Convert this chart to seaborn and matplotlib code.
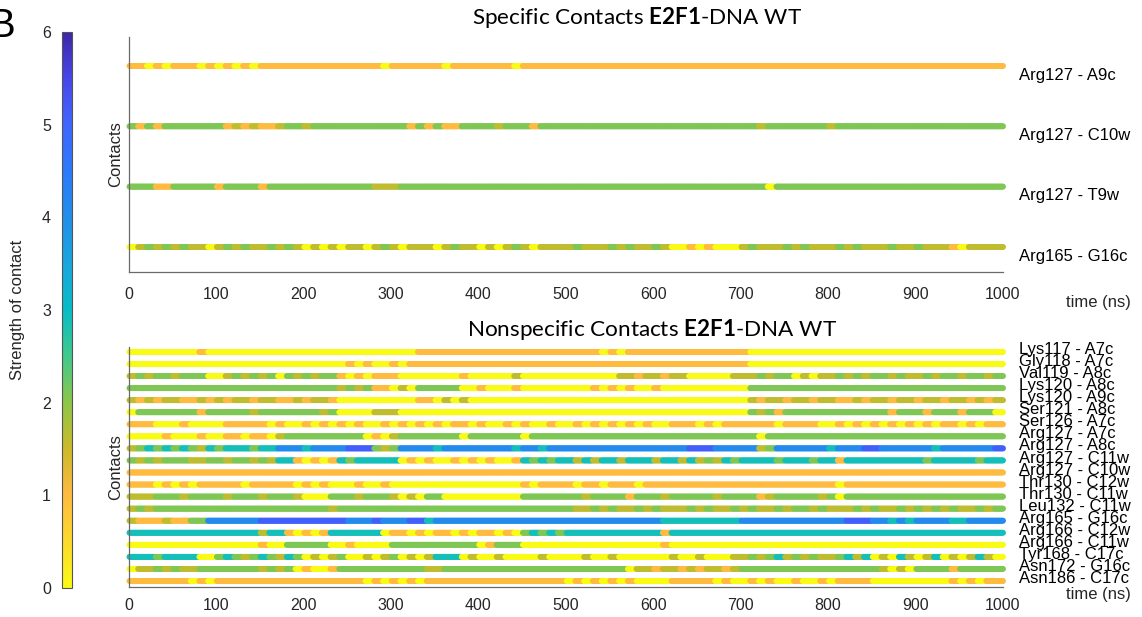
import numpy as np
import pandas as pd
import matplotlib
matplotlib.use("Agg")
import matplotlib.pyplot as plt
import seaborn as sns
from matplotlib.colors import LinearSegmentedColormap, Normalize
import matplotlib.cm as cm

# ---------------- data ----------------
# Contact state per 10 ns window (100 windows over 0-1000 ns).
# Codes map to a contact strength.
STRENGTH = {'y': 0.0, 'o': 1.0, 'l': 1.6, 'g': 2.1, 't': 2.9, 'b': 4.1, 'B': 5.1}

top_labels = ["Arg127 - A9c", "Arg127 - C10w", "Arg127 - T9w", "Arg165 - G16c"]
top_states = [
    "ooyoyoooyoyoyoyoo" + "o"*12 + "y" + "o"*6 + "y" + "o"*7 + "y" + "o"*5 + "o"*50,
    "gogogg" + "ggggg" + "ololool" + "gglgg" + "g"*9 + "ogogoog" + "ggglgggoggg" + "g"*22 + "l" + "g"*7 + "l" + "g"*19,
    "gggoo" + "ggggg" + "o" + "gggg" + "o" + "g"*12 + "lll" + "g"*19 + "g"*23 + "y" + "g"*26,
    "y" + "lglglgll" + "y" + "lglgllglgl" + "ylylyl" + "lylglylllylgllylylglylll" + "lglllglgllgl" + "yyoyoyyy" + "lglllglglllglglllgllglll" + "oy" + "llll",
]

bottom_labels = ["Lys117 - A7c", "Gly118 - A7c", "Val119 - A8c", "Lys120 - A8c", "Lys120 - A9c",
                 "Ser121 - A8c", "Ser126 - A7c", "Arg127 - A7c", "Arg127 - A8c", "Arg127 - C11w",
                 "Arg127 - C10w", "Thr130 - C12w", "Thr130 - C11w", "Leu132 - C11w", "Arg165 - G16c",
                 "Arg166 - C12w", "Arg166 - C11w", "Tyr168 - C17c", "Asn172 - G16c", "Asn186 - C17c"]
bottom_states = [
    "y"*8 + "o" + "y"*24 + "o"*21 + "yoy" + "o"*14 + "y"*29,
    "y"*24 + "yoyoyyoyo" + "o"*38 + "y"*29,
    "l" + "glgglg" + "gg" + "yy" + "lglgl" + "gy" + "glglgg" + "oyoyo" + "oo" + "yyyyyyyoyyyyylyyyyy" + "yyyyyyl" + "lolloll" + "yyyyyl" + "ll" + "glgg" + "ylyl" + "lglglgglgllglgglgglg",
    "g"*23 + "glglg" + "oo" + "yly" + "ggggg" + "yyoyyyoyyyyy" + "yyyoyoyoyyoyyyyyyyyyy" + "g"*29,
    "lololloololollolloolollo" + "y"*9 + "ooy" + "lylyy" + "y"*9 + "y"*21 + "lollolloll" + "oolollollo" + "llollolol",
    "y" + "g"*7 + "o" + "g"*5 + "l" + "g"*7 + "lg" + "yyyy" + "lll" + "y"*19 + "y"*21 + "glgoggg" + "g"*9 + "o" + "g"*3 + "o" + "g"*3 + "o" + "g"*3 + "y",
    "oooy" + "yyoyyyyo" + "ooo" + "oyoyyoyoyo" + "yoyyoyoyoy" + "oyooyoyyoy" + "oyyoy" + "yoyoyoyoyo" + "yyoooyoyoo" + "ooooyooooy" + "yoyoyoyoyo" + "yoyooyoyoo",
    "yyyyoyyyoyyo" + "oyooy" + "lg" + "g"*8 + "yoyl" + "g"*7 + "y" + "g"*6 + "y" + "gggg" + "g"*22 + "y" + "g"*27,
    "lgtgtgtgltgt" + "ttgtt" + "bbbtbbbbBB" + "Bglg" + "bbbbtbbbbbbbbtbbtbb" + "bbbbbbbbbbbbbbBBBbbbbb" + "lg" + "bbbbbb" + "t" + "bbbBBbbbbbb" + "t" + "bbbbbbB",
    "glglgggllgglgglgl" + "tt" + "oyoyo" + "tgttttt" + "yoyoyyoyoyoyyo" + "tgtgt" + "tltlttltttlttlt" + "lgl" + "tgttttgtttgtt" + "o" + "tttttttttgtttttgtt",
    "o"*100,
    "ooo" + "yoyoyo" + "ooooyooooo" + "yoyo" + "yyyoyyoy" + "y"*14 + "oyooo" + "oyooyoooyooo" + "o"*19 + "y" + "o"*18,
    "lll" + "ggglgggglggglgggl" + "yyy" + "ggglgggl" + "yly" + "gg" + "y"*9 + "ggggg" + "gglggggoggglggggglggggolggggglg" + "y" + "g"*18,
    "lgl" + "g"*20 + "lg" + "g"*25 + "gllglgllgl" + "glllglgllg" + "lgllglgglg" + "lllglgllgl" + "glglgllglg",
    "lo" + "ooloo" + "gg" + "bbbbbb" + "BBBBBBBBBB" + "bbbBbbbBB" + "t" + "b"*15 + "b"*11 + "t"*9 + "b"*12 + "BBB" + "bb" + "tbt" + "bbbb" + "tt" + "bbbb",
    "t"*15 + "ltt" + "oyoyo" + "tttttt" + "yo" + "oyoyooyoyooyoy" + "gtgtg" + "t"*11 + "o" + "t"*38,
    "y"*15 + "oyy" + "ggggg" + "yyoyyyy" + "g"*10 + "yo" + "ggg" + "yyyyy" + "y"*11 + "o" + "y"*38,
    "tttgtttt" + "yy" + "gtglgtgltg" + "ylylgyylylgylyl" + "ttt" + "ylyylyyyylyy" + "yylyylyyyyyylyylyyyl" + "lglgtlglgllgtl" + "t" + "ylytlyltylyltly",
    "yl" + "lglgllg" + "gggggg" + "lglg" + "yoyyo" + "g"*10 + "ll" + "g"*14 + "g"*7 + "yl" + "lollolollol" + "g"*16 + "lyly" + "gggg" + "o" + "ggggg",
    "ooooooo" + "yoy" + "o"*17 + "yoyoyoy" + "o"*16 + "yoyoyoyoyyyy" + "ooooo" + "yoyyoyoyyoyyoy" + "oooo" + "y"*9 + "oyoyoo",
]

time_ns = np.arange(1, 1001)
x_ticks = list(range(0, 1001, 100))
cbar_ticks = [0, 1, 2, 3, 4, 5, 6]

# ---------------- style ----------------
sns.set_theme(style="white")
plt.rcParams['font.family'] = ['Liberation Sans', 'DejaVu Sans']
plt.rcParams['mathtext.fontset'] = 'custom'
plt.rcParams['mathtext.bf'] = 'Lato:bold'
plt.rcParams['mathtext.rm'] = 'Lato'

# reversed parula-like colormap: 0 = yellow, 6 = indigo
anchor_cols = [(0.976, 0.984, 0.080), (0.99, 0.85, 0.17), (0.997, 0.73, 0.25), (0.80, 0.73, 0.16),
               (0.55, 0.78, 0.28), (0.25, 0.79, 0.55), (0.03, 0.74, 0.78), (0.10, 0.65, 0.87),
               (0.13, 0.56, 0.92), (0.17, 0.48, 0.98), (0.25, 0.40, 1.00), (0.28, 0.28, 0.92),
               (0.24, 0.15, 0.66)]
cmap = LinearSegmentedColormap.from_list("parula_r", list(zip(np.linspace(0, 1, len(anchor_cols)), anchor_cols)))
norm = Normalize(0, 6)

W, H = 1142, 617
fig = plt.figure(figsize=(W / 100, H / 100), dpi=100)


def px_rect(l, t, r, b):
    return [l / W, 1 - b / H, (r - l) / W, (b - t) / H]


ax_top = fig.add_axes(px_rect(128.6, 37, 1003, 272))
ax_bot = fig.add_axes(px_rect(128.6, 347, 1003, 587))


def build(labels, states):
    n = len(labels)
    frames = []
    for k, (lab, st) in enumerate(zip(labels, states)):
        idx = ((time_ns - 1) * len(st)) // 1000
        vals = [STRENGTH[st[i]] for i in idx]
        frames.append(pd.DataFrame({"time": time_ns, "row": n - k, "strength": vals, "contact": lab}))
    return pd.concat(frames, ignore_index=True)


spine_col = "#6a6a6a"
text_col = "#262626"

for ax, labels, states, ylim, lab_off, pad in [
        (ax_top, top_labels, top_states, (0.585, 4.48), -0.15, 11),
        (ax_bot, bottom_labels, bottom_states, (0.5, 20.41), 0.2, 8)]:
    df = build(labels, states)
    sns.scatterplot(data=df, x="time", y="row", hue="strength", palette=cmap, hue_norm=norm,
                    s=18, linewidth=0, legend=False, ax=ax)
    for coll in ax.collections:
        coll.set_clip_on(False)
    ax.set_xlim(0, 1000)
    ax.set_ylim(*ylim)
    ax.set_xticks(x_ticks)
    ax.set_xticklabels([str(t) for t in x_ticks], fontsize=11.5, color=text_col)
    ax.set_yticks([])
    ax.tick_params(axis="x", direction="in", length=5, width=0.7, color=spine_col, pad=pad)
    sns.despine(ax=ax)
    for sp in ("left", "bottom"):
        ax.spines[sp].set_color(spine_col)
        ax.spines[sp].set_linewidth(0.9)
    ax.set_xlabel("")
    ax.set_ylabel("Contacts", fontsize=12, color=text_col, labelpad=4)
    n = len(labels)
    for k, lab in enumerate(labels):
        ax.text(1018, n - k + lab_off, lab, fontsize=12, color="black", va="center", ha="left", clip_on=False)

fig.text(1066 / W, 1 - 302 / H, "time (ns)", fontsize=12, color=text_col, va="center", ha="left")
fig.text(1066 / W, 1 - 594 / H, "time (ns)", fontsize=12, color=text_col, va="center", ha="left")

fig.text(637 / W, 1 - 17 / H, r"Specific Contacts $\mathbf{E2F1}$-DNA WT", fontsize=16.2, family="Lato",
         ha="center", va="center", color="black")
fig.text(652 / W, 1 - 329 / H, r"Nonspecific Contacts $\mathbf{E2F1}$-DNA WT", fontsize=16.2, family="Lato",
         ha="center", va="center", color="black")

# colorbar
cax = fig.add_axes(px_rect(62, 32, 72, 588))
sm = cm.ScalarMappable(norm=norm, cmap=cmap)
cb = fig.colorbar(sm, cax=cax, ticks=cbar_ticks)
cax.yaxis.set_ticks_position("left")
cax.yaxis.set_label_position("left")
cax.tick_params(axis="y", direction="in", length=4, width=0.7, color="#444444", labelsize=11.5,
                labelcolor=text_col, pad=8)
cb.outline.set_edgecolor("#555555")
cb.outline.set_linewidth(0.8)
fig.text(18 / W, 1 - 310 / H, "Strength of contact", rotation=90, fontsize=12, color=text_col,
         ha="center", va="center")

# panel letter
fig.text(-11 / W, 1 - 37 / H, "B", fontsize=29, color="black", ha="left", va="baseline")

fig.savefig("out.png", dpi=100)
